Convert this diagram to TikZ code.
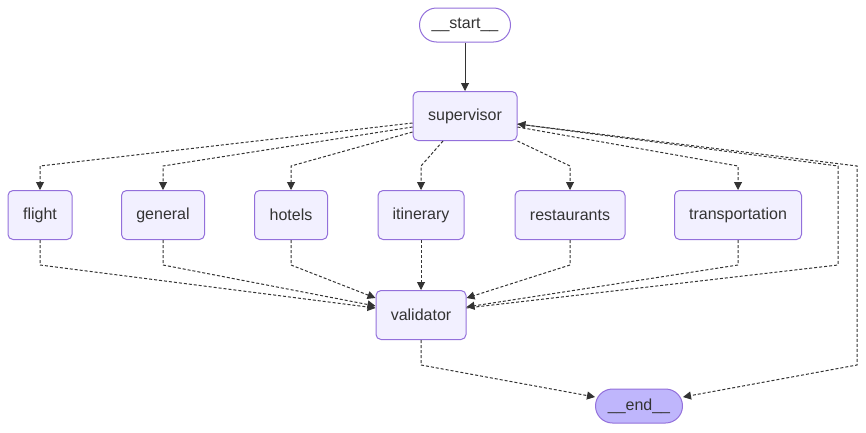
\documentclass[tikz,border=0pt]{standalone}
\usepackage{fontspec}
\setmainfont{Liberation Sans}
\usepackage{tikz}
\usetikzlibrary{arrows.meta}

\definecolor{lila}{HTML}{9370DB}
\definecolor{fondo}{HTML}{F2F0FF}
\definecolor{fondofin}{HTML}{BFB6FC}
\definecolor{linea}{HTML}{333333}

\begin{document}
\begin{tikzpicture}[x=0.75pt,y=-0.75pt,
	caja/.style={draw=lila,fill=fondo,line width=0.75pt,rounded corners=3.75pt,minimum height=36.75pt,inner sep=0pt,text=linea,font=\fontsize{12}{14}\selectfont},
	extremo/.style={caja,minimum height=25.5pt,rounded corners=12.75pt},
	flecha/.style={draw=linea,line width=0.75pt,-{Triangle[length=6pt,width=6pt]}},
	punteada/.style={flecha,dash pattern=on 2.25pt off 1.5pt}]
%marco de la figura
\useasboundingbox (0,0) rectangle (866,432);

%nodos de inicio y supervisor
\node[extremo,fill=white,minimum width=68.25pt] (start) at (465,25) {\_\_start\_\_};
\node[caja,minimum width=78pt] (supervisor) at (465,116) {supervisor};

%agentes
\node[caja,minimum width=48pt] (flight) at (40,215) {flight};
\node[caja,minimum width=62.25pt] (general) at (163,215) {general};
\node[caja,minimum width=54.75pt] (hotels) at (291,215) {hotels};
\node[caja,minimum width=64.5pt] (itinerary) at (421,215) {itinerary};
\node[caja,minimum width=82.5pt] (restaurants) at (570,215) {restaurants};
\node[caja,minimum width=95.25pt] (transportation) at (738,215) {transportation};

%validador y final
\node[caja,minimum width=67.5pt] (validator) at (421,315) {validator};
\node[extremo,fill=fondofin,minimum width=65.25pt] (end) at (639,406) {\_\_end\_\_};

%rieles de las lineas
\coordinate (rielA) at (0,166);
\coordinate (rielB) at (0,265);
\coordinate (rielE) at (0,365);
\coordinate (rielC) at (838,0);
\coordinate (rielD) at (857,0);

%inicio al supervisor
\draw[flecha] (start.south) -- (supervisor.north);

%supervisor a los agentes
\draw[punteada] ([shift={(0,7)}]supervisor.west) -- (flight.north |- rielA) -- (flight.north);
\draw[punteada] ([shift={(0,11)}]supervisor.west) -- (general.north |- rielA) -- (general.north);
\draw[punteada] ([shift={(0,16)}]supervisor.west) -- (hotels.north |- rielA) -- (hotels.north);
\draw[punteada] ([shift={(-22,0)}]supervisor.south) -- (itinerary.north |- rielA) -- (itinerary.north);
\draw[punteada] (supervisor.south east) -- (restaurants.north |- rielA) -- (restaurants.north);
\draw[punteada] ([shift={(0,11)}]supervisor.east) -- (transportation.north |- rielA) -- (transportation.north);
\draw[punteada] ([shift={(0,8)}]supervisor.east) -- (rielD |- rielA) -- (rielD |- rielE) -- ([shift={(0,-9)}]end.east);

%agentes al validador
\draw[punteada] (flight.south) -- (flight.south |- rielB) -- ([shift={(0,-7)}]validator.west);
\draw[punteada] (general.south) -- (general.south |- rielB) -- ([shift={(0,-9)}]validator.west);
\draw[punteada] (hotels.south) -- (hotels.south |- rielB) -- ([shift={(0,-17)}]validator.west);
\draw[punteada] (itinerary.south) -- (validator.north);
\draw[punteada] (restaurants.south) -- (restaurants.south |- rielB) -- ([shift={(0,-17)}]validator.east);
\draw[punteada] (transportation.south) -- (transportation.south |- rielB) -- ([shift={(0,-8)}]validator.east);

%validador al supervisor y al final
\draw[punteada] ([shift={(0,-7)}]validator.east) -- (rielC |- rielB) -- (rielC |- rielA) -- ([shift={(0,8)}]supervisor.east);
\draw[punteada] (validator.south) -- (validator.south |- rielE) -- ([shift={(0,-9)}]end.west);
\end{tikzpicture}
\end{document}
